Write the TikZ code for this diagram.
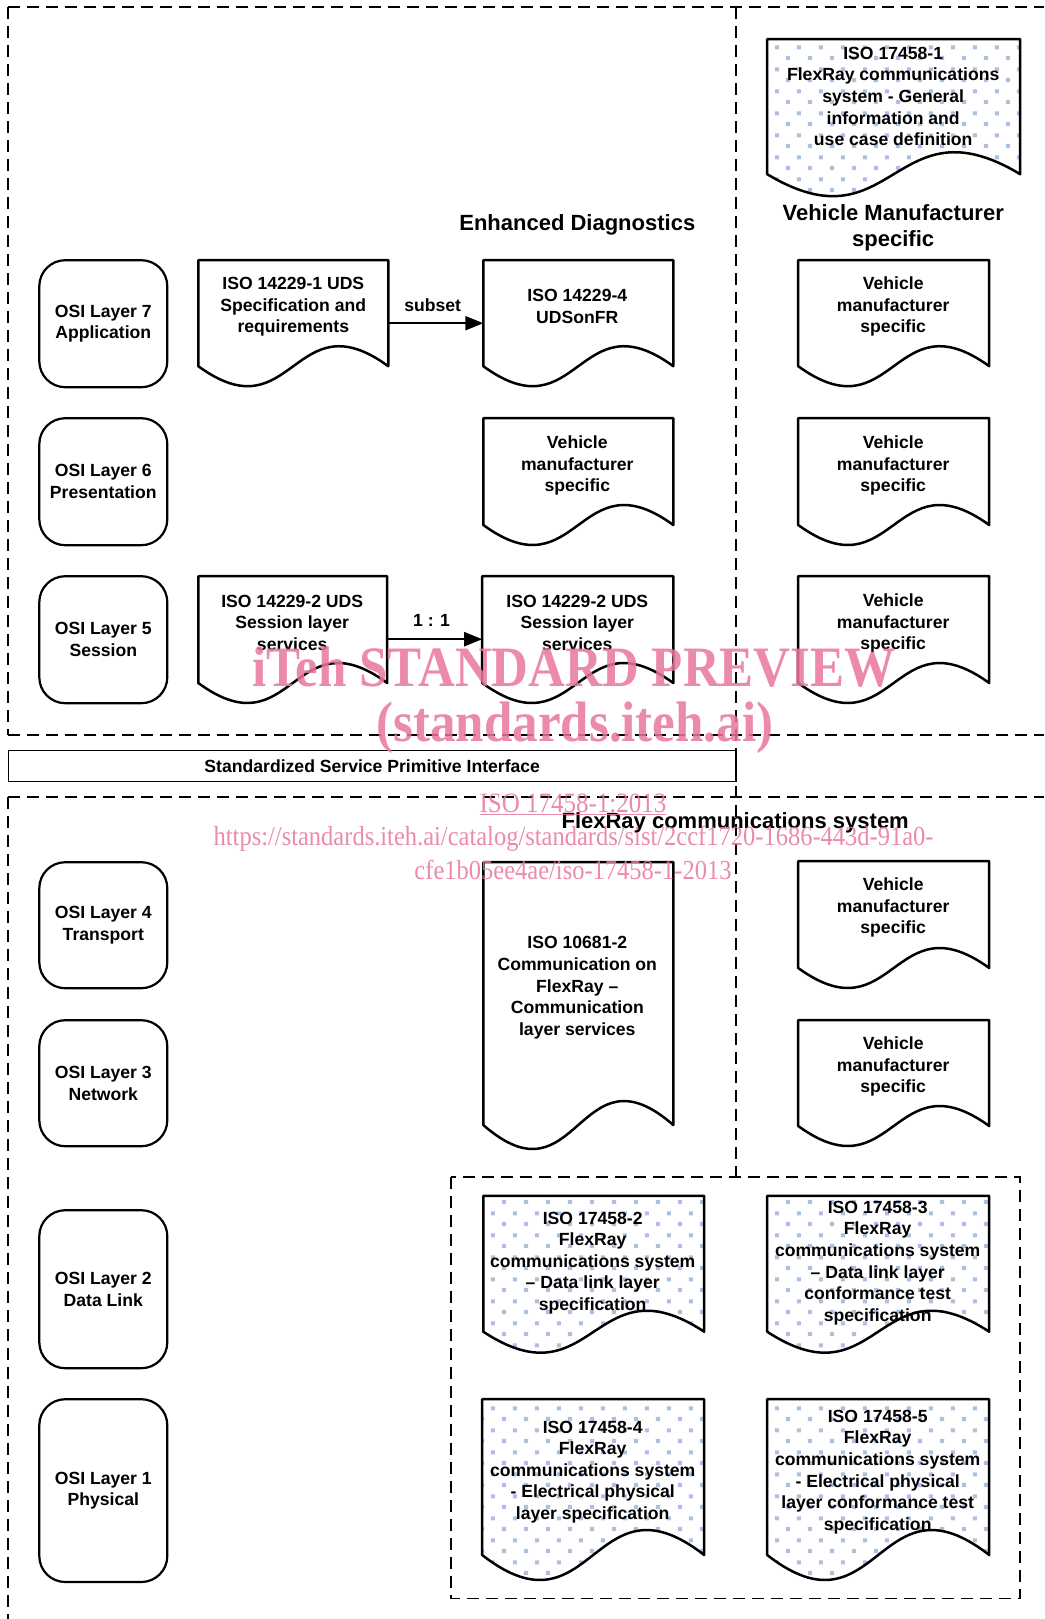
\documentclass[tikz,border=0pt]{standalone}
\usepackage{fontspec}
\setmainfont{Liberation Sans}
\newfontfamily\wmfont{Liberation Serif}
\usetikzlibrary{arrows.meta,patterns}
\definecolor{dotblue}{RGB}{172,192,226}
\definecolor{wmpink}{RGB}{232,118,155}

\pgfdeclarepatternformonly{bluedots}{\pgfpointorigin}{\pgfpoint{21.8pt}{21.6pt}}{\pgfpoint{21.8pt}{21.6pt}}{%
  \pgfpathrectangle{\pgfpoint{1pt}{1pt}}{\pgfpoint{4.2pt}{4.2pt}}%
  \pgfpathrectangle{\pgfpoint{11.9pt}{11.8pt}}{\pgfpoint{4.2pt}{4.2pt}}%
  \pgfusepath{fill}}

% opts, x1, y1, x2, ylow, d
\newcommand{\docshape}[6][]{%
  \path[docline,#1] (#2,#3) -- (#4,#3) -- (#4,{#5-#6})
    .. controls ({(#2+#4)/2},{#5-4.46*#6}) and ({(#2+#4)/2},{#5+2.46*#6}) .. (#2,{#5-#6}) -- cycle;}

\begin{document}
\begin{tikzpicture}[x=1pt,y=-1pt,
  docline/.style={draw=black, line width=2.5pt, line join=round},
  dotted doc/.style={pattern=bluedots, pattern color=dotblue},
  txt/.style={font=\fontsize{17.6}{21.6}\selectfont\bfseries, align=center, inner sep=0pt},
  head/.style={font=\fontsize{22}{26}\selectfont\bfseries, align=center, inner sep=0pt},
  osi/.style={txt, draw, line width=2.2pt, rounded corners=26pt, minimum width=128pt},
  dsh/.style={line width=1.8pt, dash pattern=on 12pt off 7pt},
  arr/.style={line width=2.2pt, -{Triangle[length=18pt,width=14pt]}},
  wm/.style={text=wmpink, opacity=0.85, inner sep=0pt, font=\wmfont}]

\useasboundingbox (0,0) rectangle (1044,1619);

% dashed frames
\draw[dsh] (8.3,7.2) -- (1044,7.2);
\draw[dsh] (8.3,7.2) -- (8.3,735.2);
\draw[dsh] (736.2,7.2) -- (736.2,1177.2);
\draw[dsh] (8.3,735.2) -- (1044,735.2);
\draw[dsh] (8.3,797.2) -- (1044,797.2);
\draw[dsh] (8.3,797.2) -- (8.3,1619);
\draw[dsh] (451.2,1177.2) rectangle (1020.2,1598.5);

% interface box
\node[txt, draw, line width=1.5pt, minimum width=727.9pt, minimum height=31pt] (sspi) at (372.25,766.2) {Standardized Service Primitive Interface};

% OSI layers
\node[osi, minimum height=127pt] (L7) at (103.3,323.7) {OSI Layer 7\\Application};
\node[osi, minimum height=127pt] (L6) at (103.3,481.7) {OSI Layer 6\\Presentation};
\node[osi, minimum height=127pt] (L5) at (103.3,639.7) {OSI Layer 5\\Session};
\node[osi, minimum height=126pt] (L4) at (103.3,925.2) {OSI Layer 4\\Transport};
\node[osi, minimum height=126pt] (L3) at (103.3,1083.2) {OSI Layer 3\\Network};
\node[osi, minimum height=158pt] (L2) at (103.3,1289.2) {OSI Layer 2\\Data Link};
\node[osi, minimum height=182.8pt] (L1) at (103.3,1490.6) {OSI Layer 1\\Physical};

% document shapes
\docshape{198.3}{260.2}{388.3}{386.2}{20}
\docshape{483.3}{260.2}{673.3}{386.2}{20}
\docshape{483.3}{418.2}{673.3}{545}{20}
\docshape{198.3}{576.2}{387.2}{703}{20}
\docshape{482.2}{576.2}{673.3}{703}{20}
\docshape{798.2}{260.2}{989.2}{386.2}{20}
\docshape{798.2}{418.2}{989.2}{545}{20}
\docshape{798.2}{576.2}{989.2}{703}{20}
\docshape{798.2}{861.2}{989.2}{988}{20}
\docshape{798.2}{1020.2}{989.2}{1146}{20}
\docshape{483.3}{862.2}{673.3}{1149}{24}
\docshape[dotted doc]{767.2}{39.2}{1020.2}{196.2}{22}
\docshape[dotted doc]{483.3}{1195.8}{704.2}{1352.7}{21}
\docshape[dotted doc]{767.2}{1195.8}{989.2}{1352.7}{21}
\docshape[dotted doc]{482.2}{1399.2}{704.2}{1580}{25}
\docshape[dotted doc]{767.2}{1399.2}{989.2}{1580}{25}

% document texts
\node[txt] (d1) at (293.3,306.7) {ISO 14229-1 UDS\\Specification and\\requirements};
\node[txt] (d2) at (577.3,306.2) {ISO 14229-4\\UDSonFR};
\node[txt] (d3) at (577.3,465.7) {Vehicle\\manufacturer\\specific};
\node[txt] (d4) at (292.2,622.7) {ISO 14229-2 UDS\\Session layer\\services};
\node[txt] (d5) at (577.3,622.7) {ISO 14229-2 UDS\\Session layer\\services};
\node[txt] (r7) at (893.2,306.7) {Vehicle\\manufacturer\\specific};
\node[txt] (r6) at (893.2,465.7) {Vehicle\\manufacturer\\specific};
\node[txt] (r5) at (893.2,623.7) {Vehicle\\manufacturer\\specific};
\node[txt] (r4) at (893.2,907.7) {Vehicle\\manufacturer\\specific};
\node[txt] (r3) at (893.2,1066.7) {Vehicle\\manufacturer\\specific};
\node[txt] (tt) at (577.3,987.7) {ISO 10681-2\\Communication on\\FlexRay –\\Communication\\layer services};
\node[txt] (t0) at (893.2,96.5) {ISO 17458-1\\FlexRay communications\\system - General\\information and\\use case definition};
\node[txt] (b1) at (592.7,1262.9) {ISO 17458-2\\FlexRay\\communications system\\– Data link layer\\specification};
\node[txt] (b2) at (877.7,1262.9) {ISO 17458-3\\FlexRay\\communications system\\– Data link layer\\conformance test\\specification};
\node[txt] (b3) at (592.7,1472) {ISO 17458-4\\FlexRay\\communications system\\- Electrical physical\\layer specification};
\node[txt] (b4) at (877.7,1472) {ISO 17458-5\\FlexRay\\communications system\\- Electrical physical\\layer conformance test\\specification};

% headings
\node[head] (hED) at (577.3,225.1) {Enhanced Diagnostics};
\node[head] (hVM) at (893.2,227.7) {Vehicle Manufacturer\\specific};
\node[head] (hFR) at (735.2,823) {FlexRay communications system};

% arrows
\coordinate (a1s) at (388.3,323.2);
\coordinate (a1e) at (483.3,323.2);
\draw[arr] (a1s) -- (a1e);
\node[txt] (lsub) at (432.7,305.7) {subset};
\coordinate (a2s) at (387.2,639.2);
\coordinate (a2e) at (482.2,639.2);
\draw[arr] (a2s) -- (a2e);
\node[txt] (l11) at (431.6,620.6) {1 : 1};

% watermark
\node[wm] (wm1) at (574,667) {\scalebox{1}[1.12]{\fontsize{51}{51}\selectfont\bfseries iTeh STANDARD PREVIEW}};
\node[wm] (wm2) at (575,728) {\scalebox{1}[1.12]{\fontsize{51}{51}\selectfont\bfseries (standards.iteh.ai)}};
\node[wm] (wm3) at (573,804) {\scalebox{1}[1.12]{\fontsize{25}{25}\selectfont\underline{ISO 17458-1:2013}}};
\node[wm] (wm4) at (573.6,838.5) {\scalebox{1}[1.12]{\fontsize{24.5}{24.5}\selectfont https://standards.iteh.ai/catalog/standards/sist/2ccf1720-1686-443d-91a0-}};
\node[wm] (wm5) at (573,869.5) {\scalebox{1}[1.12]{\fontsize{24.5}{24.5}\selectfont cfe1b05ee4ae/iso-17458-1-2013}};
\end{tikzpicture}
\end{document}
